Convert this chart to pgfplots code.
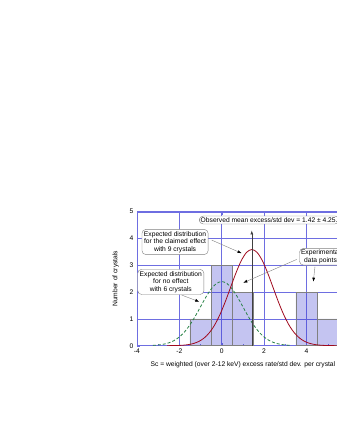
\documentclass[border=0pt]{standalone}
\usepackage{pgfplots}
\pgfplotsset{compat=1.18}
\usepackage{fontspec}
\setmainfont{Liberation Sans}
\usetikzlibrary{arrows.meta}
\definecolor{gridblue}{RGB}{110,110,225}
\definecolor{barbase}{RGB}{60,60,210}
\definecolor{curvered}{RGB}{160,10,30}
\definecolor{dashgreen}{RGB}{40,130,70}
\begin{document}
\begin{tikzpicture}
\clip (0pt,0pt) rectangle (337pt,436pt);
\begin{pgfinterruptboundingbox}
\begin{axis}[
  at={(136.9pt,90.3pt)}, anchor=south west,
  scale only axis, width=212pt, height=134pt,
  xmin=-4, xmax=6, ymin=0, ymax=5,
  xtick={-4,-2,0,2,4,6}, ytick={0,1,2,3,4,5},
  minor x tick num=1, minor y tick num=4,
  grid=major, major grid style={gridblue, line width=0.5pt},
  axis line style={gridblue}, tick style={gridblue},
  tick align=inside, major tick length=3pt, minor tick length=1.5pt,
  font=\fontsize{6.7}{7.5}\selectfont,
  /pgf/number format/assume math mode=true,
  xlabel={Sc = weighted (over 2-12 keV) excess rate/std dev. per crystal},
  ylabel={Number of crystals},
  xlabel style={yshift=-1pt},
  ylabel style={yshift=4pt},
]
% bars (individual crystals stacked)
\addplot[fill=barbase, fill opacity=0.3, draw=gray] coordinates {(-1.5,0) (-1.5,1) (-0.5,1) (-0.5,0) (-1.5,0)};
\addplot[fill=barbase, fill opacity=0.3, draw=gray] coordinates {(-0.5,0) (-0.5,3) (0.5,3) (0.5,0) (-0.5,0)};
\addplot[fill=barbase, fill opacity=0.3, draw=gray] coordinates {(0.5,0) (0.5,2) (1.5,2) (1.5,0) (0.5,0)};
\addplot[gray] coordinates {(1.45,0) (1.45,1)};
\addplot[fill=barbase, fill opacity=0.3, draw=gray] coordinates {(3.5,0) (3.5,2) (4.5,2) (4.5,0) (3.5,0)};
\addplot[fill=barbase, fill opacity=0.3, draw=gray] coordinates {(4.5,0) (4.5,1) (5.5,1) (5.5,0) (4.5,0)};
% expected, no effect (6 crystals)
\addplot[dashgreen, densely dashed, line width=0.8pt, smooth] coordinates {
(-3.25,0.012) (-3,0.027) (-2.75,0.055) (-2.5,0.105) (-2.25,0.190) (-2,0.324)
(-1.75,0.518) (-1.5,0.777) (-1.25,1.096) (-1,1.452) (-0.75,1.807) (-0.5,2.112)
(-0.25,2.320) (0,2.394) (0.25,2.320) (0.5,2.112) (0.75,1.807) (1,1.452)
(1.25,1.096) (1.5,0.777) (1.75,0.518) (2,0.324) (2.25,0.190) (2.5,0.105)
(2.75,0.055) (3,0.027) (3.25,0.012)};
% expected, claimed effect (9 crystals)
\addplot[curvered, line width=0.8pt, smooth] coordinates {
(-2.58,0.001) (-2.33,0.003) (-2.08,0.008) (-1.83,0.018) (-1.58,0.040) (-1.33,0.082)
(-1.08,0.158) (-0.83,0.286) (-0.58,0.486) (-0.33,0.777) (-0.08,1.166) (0.17,1.644)
(0.42,2.178) (0.67,2.710) (0.92,3.169) (1.17,3.480) (1.42,3.590) (1.67,3.480)
(1.92,3.169) (2.17,2.710) (2.42,2.178) (2.67,1.644) (2.92,1.166) (3.17,0.777)
(3.42,0.486) (3.67,0.286) (3.92,0.158) (4.17,0.082) (4.42,0.040) (4.67,0.018)
(4.92,0.008) (5.17,0.003) (5.42,0.001)};
% observed mean
\addplot[black!75, line width=0.6pt, -{Latex[length=4pt,width=3pt]}] coordinates {(1.42,0) (1.42,4.3)};
% callouts
\node[draw=gray, fill=white, rounded corners=4pt, inner sep=1.5pt, anchor=west, align=left]
  at (axis cs:-1.07,4.69) {Observed mean excess/std dev = 1.42 ± 4.25.};
\node[draw=gray, fill=white, rounded corners=4pt, inner sep=2pt, align=center]
  at (axis cs:-2.2,3.87) {Expected distribution\\for the claimed effect\\with 9 crystals};
\node[draw=gray, fill=white, rounded corners=4pt, inner sep=2pt, align=center]
  at (axis cs:-2.4,2.38) {Expected distribution\\for no effect\\with 6 crystals};
\node[draw=gray, fill=white, rounded corners=4pt, inner sep=1.5pt, anchor=west, align=center]
  at (axis cs:3.66,3.32) {Experimental\\data points};
\draw[gray, -{Latex[length=4pt,width=3pt,black]}] (axis cs:-0.47,3.94) -- (axis cs:0.94,3.45);
\draw[gray, -{Latex[length=4pt,width=3pt,black]}] (axis cs:-1.89,1.89) -- (axis cs:-1.06,1.64);
\draw[gray, -{Latex[length=4pt,width=3pt,black]}] (axis cs:3.54,3.22) -- (axis cs:1.02,2.35);
\draw[gray, -{Latex[length=4pt,width=3pt,black]}] (axis cs:4.4,2.95) -- (axis cs:4.32,2.39);
\end{axis}
\end{pgfinterruptboundingbox}
\path (0pt,0pt) rectangle (337pt,436pt);
\end{tikzpicture}
\end{document}
